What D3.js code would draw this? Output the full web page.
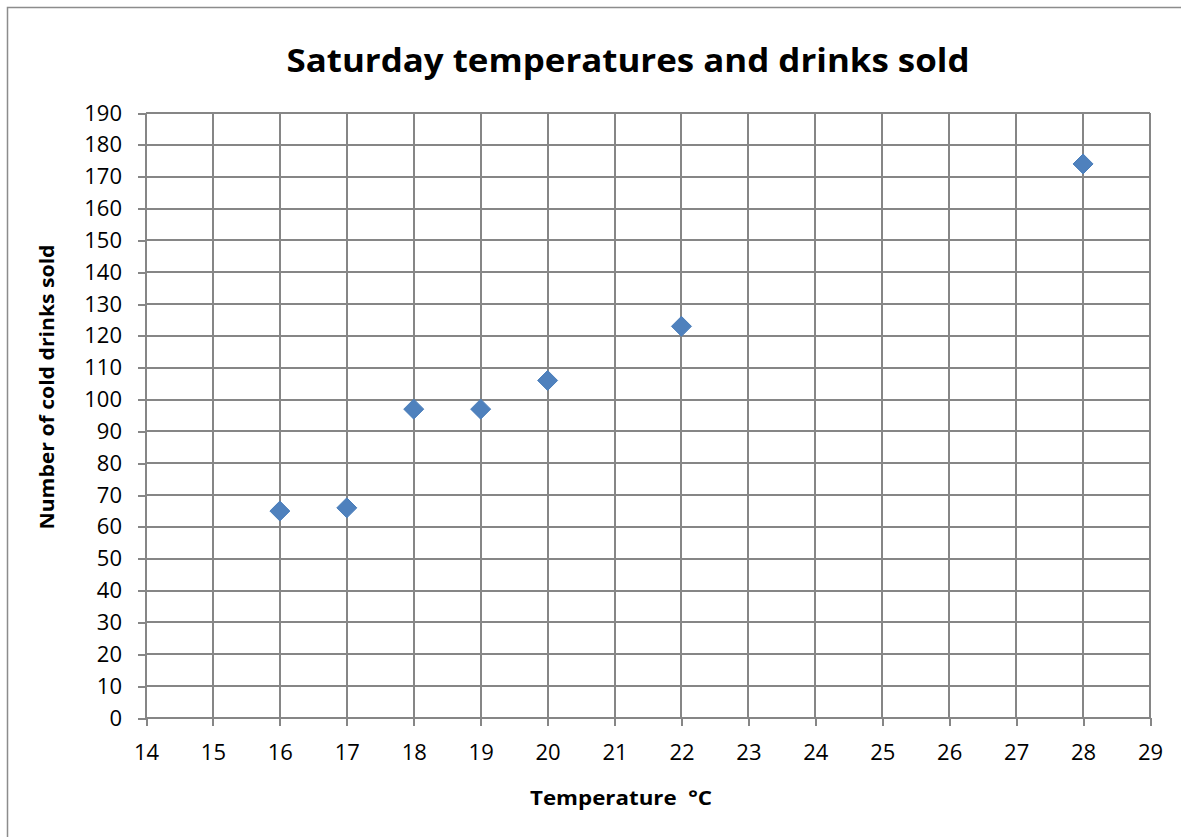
<!DOCTYPE html>
<meta charset="utf-8">
<style>

  body {
    margin: 0;
    background: #fff;
    font-family: "Open Sans", sans-serif;
  }

  .grid line {
    stroke: #868686;
    stroke-width: 2px;
    shape-rendering: crispEdges;
  }

  .axis path {
    display: none;
  }

  .axis line {
    stroke: #868686;
    stroke-width: 2px;
    shape-rendering: crispEdges;
  }

  .axis text {
    font-family: "Open Sans", sans-serif;
    font-size: 22px;
    fill: #000;
  }

  .dot {
    fill: #4f81bd;
    stroke: #4a7ebb;
    stroke-width: 1px;
  }

</style>
<body>
<script src="https://cdn.jsdelivr.net/npm/d3@7"></script>
<script>

  var temperatures = [16, 17, 18, 19, 20, 22, 28];
  var drinksSold = [65, 66, 97, 97, 106, 123, 174];

  var xTicks = d3.range(14, 30, 1);
  var yTicks = d3.range(0, 200, 10);

  var data = temperatures.map(function(t, i) {
    return {x: t, y: drinksSold[i]};
  });

  var width = 1181, height = 837;
  var margin = {top: 113, right: 31, bottom: 119, left: 146};
  var innerW = width - margin.left - margin.right;
  var innerH = height - margin.top - margin.bottom;

  var x = d3.scaleLinear().domain([14, 29]).range([0, innerW]);
  var y = d3.scaleLinear().domain([0, 190]).range([innerH, 0]);

  var svg = d3.select("body").append("svg")
    .attr("width", width)
    .attr("height", height);

  // Chart frame.
  svg.append("rect")
    .attr("x", 7.5)
    .attr("y", 7.5)
    .attr("width", width)
    .attr("height", height)
    .attr("fill", "none")
    .attr("stroke", "#8c8c8c")
    .attr("stroke-width", 1.5);

  // Title.
  svg.append("text")
    .attr("x", 628)
    .attr("y", 72)
    .attr("text-anchor", "middle")
    .style("font-family", "'Open Sans', sans-serif")
    .style("font-weight", "bold")
    .style("font-size", "32px")
    .attr("textLength", 683)
    .attr("lengthAdjust", "spacingAndGlyphs")
    .text("Saturday temperatures and drinks sold");

  var g = svg.append("g")
    .attr("transform", "translate(" + margin.left + "," + margin.top + ")");

  // Grid lines.
  g.append("g")
    .attr("class", "grid")
    .selectAll("line.h")
    .data(yTicks)
    .enter().append("line")
    .attr("x1", 0)
    .attr("x2", innerW)
    .attr("y1", function(d) { return y(d); })
    .attr("y2", function(d) { return y(d); });

  g.append("g")
    .attr("class", "grid")
    .selectAll("line.v")
    .data(xTicks)
    .enter().append("line")
    .attr("y1", 0)
    .attr("y2", innerH)
    .attr("x1", function(d) { return x(d); })
    .attr("x2", function(d) { return x(d); });

  // Bottom axis.
  g.append("g")
    .attr("class", "axis axis--x")
    .attr("transform", "translate(0," + innerH + ")")
    .call(d3.axisBottom(x).tickValues(xTicks).tickSize(8).tickPadding(18).tickFormat(d3.format("d")));

  // Left axis.
  g.append("g")
    .attr("class", "axis axis--y")
    .call(d3.axisLeft(y).tickValues(yTicks).tickSize(8).tickPadding(16).tickFormat(d3.format("d")));

  // Axis titles.
  svg.append("text")
    .attr("x", 621)
    .attr("y", 805)
    .attr("text-anchor", "middle")
    .attr("xml:space", "preserve")
    .style("white-space", "pre")
    .style("font-weight", "bold")
    .style("font-size", "20px")
    .attr("textLength", 182)
    .attr("lengthAdjust", "spacingAndGlyphs")
    .text("Temperature  \u00b0C");

  svg.append("text")
    .attr("transform", "translate(54,387) rotate(-90)")
    .attr("text-anchor", "middle")
    .style("font-weight", "bold")
    .style("font-size", "20px")
    .attr("textLength", 285)
    .attr("lengthAdjust", "spacingAndGlyphs")
    .text("Number of cold drinks sold");

  // Diamond markers.
  g.selectAll(".dot")
    .data(data)
    .enter().append("path")
    .attr("class", "dot")
    .attr("d", "M0,-10L10,0L0,10L-10,0Z")
    .attr("transform", function(d) { return "translate(" + x(d.x) + "," + y(d.y) + ")"; });

</script>
